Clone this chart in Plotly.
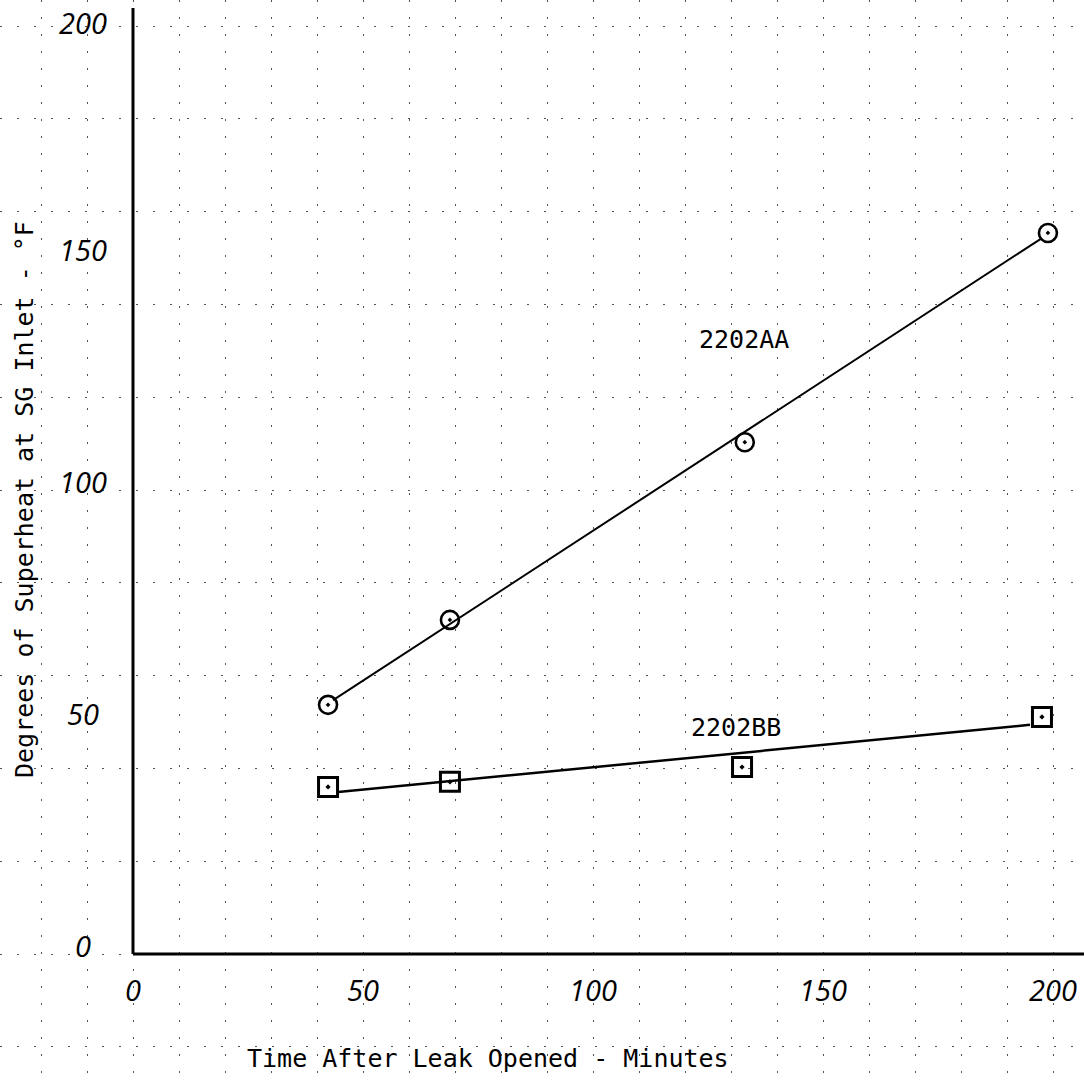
import plotly.graph_objects as go

# Measured superheat at the steam-generator inlet (degrees F) vs. time after leak opened (min)
time_aa = [42.4, 68.9, 133.0, 198.9]
superheat_aa = [53.7, 72.0, 110.3, 155.4]
time_bb = [42.4, 68.9, 132.4, 197.6]
superheat_bb = [36.0, 37.1, 40.3, 51.1]

# Hand-drawn straight lines through each set of points (endpoints)
fit_time_aa = [43.5, 197.6]
fit_superheat_aa = [54.7, 154.3]
fit_time_bb = [44.6, 195.0]
fit_superheat_bb = [34.9, 49.4]

# Tick values
x_ticks = [0, 50, 100, 150, 200]
y_ticks = [0, 50, 100, 150, 200]

# Graph-paper extent (the grid covers the whole sheet)
x_range = [-28.913, 206.739]
y_range = [-28.448, 205.603]
y_axis_top = 203.9

hand_font = dict(family="Open Sans", size=29, color="black", style="italic")
type_font = dict(family="DejaVu Sans Mono", size=25, color="black")
grid_dash = "2px,15px"

fig = go.Figure()

fig.add_trace(go.Scatter(x=fit_time_aa, y=fit_superheat_aa, mode="lines",
                         line=dict(color="black", width=2), showlegend=False,
                         hoverinfo="skip"))
fig.add_trace(go.Scatter(x=fit_time_bb, y=fit_superheat_bb, mode="lines",
                         line=dict(color="black", width=2.5), showlegend=False,
                         hoverinfo="skip"))
fig.add_trace(go.Scatter(x=time_aa, y=superheat_aa, mode="markers", name="2202AA",
                         marker=dict(symbol="circle-open-dot", size=18, color="black",
                                     line=dict(color="black", width=2.6)),
                         showlegend=False))
fig.add_trace(go.Scatter(x=time_bb, y=superheat_bb, mode="markers", name="2202BB",
                         marker=dict(symbol="square-open-dot", size=19, color="black",
                                     line=dict(color="black", width=3)),
                         showlegend=False))

# Axis lines starting at the origin
fig.add_shape(type="line", x0=0, y0=0, x1=0, y1=y_axis_top, xref="x", yref="y",
              line=dict(color="black", width=3))
fig.add_shape(type="line", x0=0, y0=0, x1=x_range[1], y1=0, xref="x", yref="y",
              line=dict(color="black", width=3))

annotations = []
for v in x_ticks:
    annotations.append(dict(x=v, y=0, xref="x", yref="y", text=str(v), showarrow=False,
                            xanchor="center", yanchor="middle", yshift=-35,
                            font=hand_font))
for v in y_ticks:
    annotations.append(dict(x=0, y=v, xref="x", yref="y", text=str(v), showarrow=False,
                            xanchor="center", yanchor="middle", xshift=-50,
                            yshift=9 if v < 200 else 4, font=hand_font))

# Curve labels
annotations.append(dict(x=744 / 1084, y=1 - 339 / 1086, xref="paper", yref="paper",
                        text="2202AA", showarrow=False, xanchor="center",
                        yanchor="middle", font=type_font))
annotations.append(dict(x=736 / 1084, y=1 - 727 / 1086, xref="paper", yref="paper",
                        text="2202BB", showarrow=False, xanchor="center",
                        yanchor="middle", font=type_font))

# Axis titles
annotations.append(dict(x=488 / 1084, y=1 - 1058 / 1086, xref="paper", yref="paper",
                        text="Time After Leak Opened - Minutes", showarrow=False,
                        xanchor="center", yanchor="middle", font=type_font))
annotations.append(dict(x=25 / 1084, y=1 - 500 / 1086, xref="paper", yref="paper",
                        text="Degrees of Superheat at SG Inlet - °F", showarrow=False,
                        xanchor="center", yanchor="middle", textangle=-90,
                        font=type_font))

fig.update_layout(
    width=1084, height=1086,
    margin=dict(l=0, r=0, t=0, b=0),
    paper_bgcolor="white", plot_bgcolor="white",
    annotations=annotations,
    xaxis=dict(range=x_range, dtick=10, tick0=0, showgrid=True, gridcolor="#555",
               gridwidth=1, griddash=grid_dash, zeroline=False, showticklabels=False,
               showline=False, ticks=""),
    yaxis=dict(range=y_range, dtick=20, tick0=0, showgrid=True, gridcolor="#555",
               gridwidth=1, griddash=grid_dash, zeroline=False, showticklabels=False,
               showline=False, ticks=""),
)

fig.write_html("out.html")
